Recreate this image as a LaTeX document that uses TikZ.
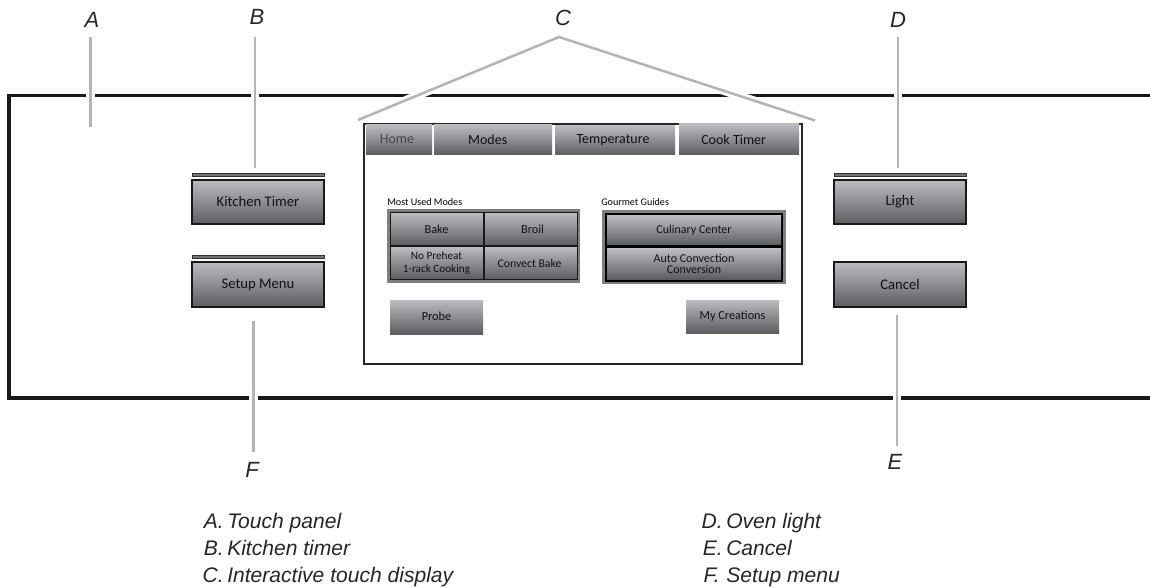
\documentclass[tikz,border=0pt]{standalone}
\usepackage{fontspec}
\setmainfont{Liberation Sans}
\newfontfamily\btnfont{Carlito}
\definecolor{gtop}{HTML}{BCBCC0}
\definecolor{gbot}{HTML}{5C5D61}
\definecolor{leader}{HTML}{B4B4BA}
\definecolor{tray}{HTML}{7F7F7F}
\definecolor{btext}{HTML}{111111}
\tikzset{
  pic unit/.style={x=0.75pt,y=-0.75pt},
  btn/.style={rectangle,inner sep=0pt,draw=none,top color=gtop,bottom color=gbot,text=btext,align=center,font=\btnfont\fontsize{#1}{#1}\selectfont},
  btn/.default=9.2,
  barshape/.style={rectangle,inner sep=0pt,fill=gbot!85,draw=black!80,line width=0.5pt},
  hard/.style={draw=black!90,line width=0.9pt},
  fine/.style={draw=black!90,line width=0.75pt},
  leaderline/.style={draw=leader,line width=1.9pt,preaction={draw=white,line width=6.3pt}},
  letter/.style={font=\itshape\fontsize{16.5}{16.5}\selectfont,text=black!85,inner sep=0pt},
  legend/.style={font=\itshape\fontsize{15.8}{15.8}\selectfont,text=black!85,inner sep=0pt,anchor=base west},
  caption/.style={font=\btnfont\fontsize{7.6}{7.6}\selectfont,inner sep=0pt,anchor=base west},
}
% box from (x1,y1) to (x2,y2) in pixels: name, style, text
\newcommand{\pxbtn}[7]{%
  \pgfmathsetmacro{\cxx}{(#2+#4)/2}\pgfmathsetmacro{\cyy}{(#3+#5)/2}%
  \pgfmathsetmacro{\wdd}{(#4-#2)*0.75}\pgfmathsetmacro{\htt}{(#5-#3)*0.75}%
  \node[#6,minimum width=\wdd pt,minimum height=\htt pt] (#1) at (\cxx,\cyy) {#7};}
\newcommand{\lgitem}[3][2.6pt]{\makebox[18.75pt][r]{#2\kern#1}#3}
\newcommand{\dropped}[2]{\raisebox{#1}{#2}}
\begin{document}
\begin{tikzpicture}[pic unit]
\useasboundingbox (0,0) rectangle (1150,588);
% panel outline
\draw[draw=black!90,line width=2.6pt] (1150,95.7) -- (9,95.7) -- (9,398) -- (1150,398);
% display
\pxbtn{display}{364}{124}{802}{364}{rectangle,inner sep=0pt,draw=black!85,line width=1.2pt,fill=white}{}
\pxbtn{home}{366}{125}{432}{155}{btn=10.5}{\dropped{1pt}{\textcolor{black!72}{Home\kern3pt}}}
\pxbtn{modes}{434}{125}{552}{155}{btn=10.5}{Modes\kern8pt}
\pxbtn{temp}{555}{126}{675}{155}{btn=10.5}{\dropped{-1.5pt}{Temperature\kern3pt}}
\pxbtn{cook}{679}{124}{799}{155}{btn=10.5}{Cook Timer\kern8pt}
\node[caption] (mum) at (387,206) {Most Used Modes};
\node[caption] (gg) at (601,206) {Gourmet Guides};
% most used modes
\pxbtn{tray1}{387}{209}{580}{283}{rectangle,inner sep=0pt,fill=tray}{}
\pxbtn{bake}{390}{213}{483}{246}{btn,fine}{Bake}
\pxbtn{broil}{484}{213}{577}{246}{btn,fine}{\kern3pt Broil}
\pxbtn{preheat}{390}{247}{483}{279}{btn=8.4,fine,font=\btnfont\fontsize{8.4}{9.75}\selectfont}{No Preheat\\1-rack Cooking}
\pxbtn{convect}{484}{247}{577}{279}{btn=8.8,fine}{Convect Bake\kern1.5pt}
% gourmet guides
\pxbtn{tray2}{602}{210}{786}{284}{rectangle,inner sep=0pt,fill=tray}{}
\pxbtn{tray3}{605}{213}{783}{282}{rectangle,inner sep=0pt,fill=black}{}
\pxbtn{culinary}{607}{216}{781}{245}{btn=9}{\dropped{-0.7pt}{Culinary Center}}
\pxbtn{auto}{607}{249}{781}{279}{btn=9,font=\btnfont\fontsize{9}{8.25}\selectfont}{Auto Convection\\Conversion}
% lower buttons
\pxbtn{probe}{390}{300}{483}{334}{btn}{\dropped{0.7pt}{Probe}}
\pxbtn{creations}{686}{300}{779}{333}{btn}{\dropped{-0.7pt}{My Creations}}
% side buttons
\pxbtn{kbar}{192}{173.5}{324}{176.5}{barshape}{}
\pxbtn{kitchen}{192}{180}{324}{224}{btn=11,hard}{\dropped{0.6pt}{Kitchen Timer}}
\pxbtn{sbar}{192}{255.5}{324}{258.5}{barshape}{}
\pxbtn{setup}{192}{262}{324}{307}{btn=11,hard}{\dropped{-1.2pt}{Setup Menu}}
\pxbtn{lbar}{834}{173.5}{966}{176.5}{barshape}{}
\pxbtn{light}{834}{180}{966}{224}{btn=11,hard}{\dropped{-2pt}{Light}}
\pxbtn{cancel}{834}{262}{966}{307}{btn=11,hard}{\dropped{-0.8pt}{Cancel}}
% letters
\node[letter] (A) at (92,20) {A};
\node[letter] (B) at (257,17) {B};
\node[letter] (C) at (563,18) {C};
\node[letter] (D) at (898,20) {D};
\node[letter] (E) at (895,462) {E};
\node[letter] (F) at (252,470) {F};
% leader ends
\coordinate (Aa) at (90.5,37); \coordinate (Ab) at (90.5,127);
\coordinate (Ba) at (255,37); \coordinate (Bb) at (255,168);
\coordinate (Ca) at (358,120); \coordinate (Cb) at (559,37); \coordinate (Cc) at (815,120.5);
\coordinate (Da) at (898,37); \coordinate (Db) at (898,168);
\coordinate (Ea) at (897,315); \coordinate (Eb) at (897,446);
\coordinate (Fa) at (253.5,321); \coordinate (Fb) at (253.5,452);
\draw[leaderline] (Aa) -- (Ab);
\draw[leaderline] (Ba) -- (Bb);
\draw[leaderline] (Ca) -- (Cb) -- (Cc);
\draw[leaderline] (Da) -- (Db);
\draw[leaderline] (Ea) -- (Eb);
\draw[leaderline] (Fa) -- (Fb);
% legend
\node[legend] (la) at (202,528) {\lgitem{A.}{Touch panel}};
\node[legend] (lb) at (202,555) {\lgitem{B.}{Kitchen timer}};
\node[legend] (lc) at (202,582) {\lgitem{C.}{Interactive touch display}};
\node[legend] (ld) at (701,528) {\lgitem{D.}{Oven light}};
\node[legend] (le) at (701,555) {\lgitem{E.}{Cancel}};
\node[legend] (lf) at (701,582) {\lgitem[5pt]{F.}{Setup menu}};
\end{tikzpicture}
\end{document}
